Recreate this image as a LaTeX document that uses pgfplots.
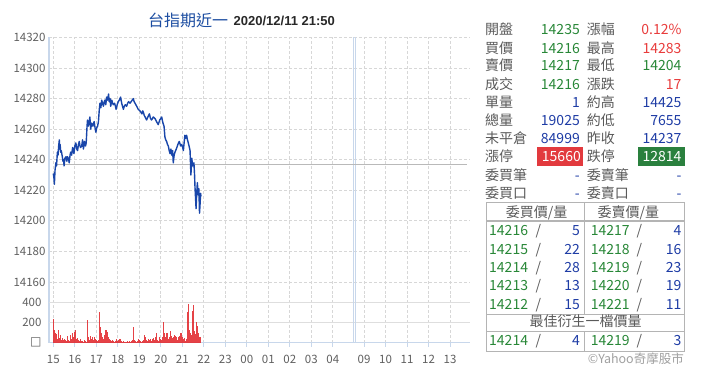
\documentclass[border=0pt]{standalone}
\usepackage{pgfplots}
\pgfplotsset{compat=1.18}
\usepackage{fontspec}
\setmainfont{Noto Sans CJK TC}
\newfontfamily\datefont{Liberation Sans}
\newfontfamily\symfont{DejaVu Sans}
\definecolor{labgray}{RGB}{90,90,90}
\definecolor{valgreen}{RGB}{40,135,55}
\definecolor{valblue}{RGB}{30,60,165}
\definecolor{valred}{RGB}{232,60,60}
\definecolor{linecol}{RGB}{25,70,170}
\definecolor{titleblue}{RGB}{28,77,161}
\definecolor{volred}{RGB}{226,45,50}
\definecolor{gridgray}{RGB}{215,215,215}
\definecolor{gridgray2}{RGB}{222,222,222}
\definecolor{axisblue}{RGB}{200,215,235}
\definecolor{prevgray}{RGB}{185,185,185}
\definecolor{tickgray}{RGB}{95,95,95}
\definecolor{tborder}{RGB}{180,180,180}
\definecolor{boxred}{RGB}{226,58,62}
\definecolor{boxgreen}{RGB}{42,128,62}
\definecolor{copygray}{RGB}{160,160,160}
\newcommand\tickfont{\fontsize{11.5bp}{13bp}\selectfont}
\newcommand\rp{\fontsize{14bp}{16bp}\selectfont}
\newcommand\lab[3]{\node[anchor=base west,inner sep=0pt,text=labgray,font=\rp] at (#1,{386-(#2)-5}) {#3};}
\newcommand\val[4]{\node[anchor=base east,inner sep=0pt,text=#4,font=\rp] at (#1,{386-(#2)-5}) {#3};}
\newcommand\ctr[3]{\node[anchor=base,inner sep=0pt,text=labgray,font=\rp] at (#1,{386-(#2)-5}) {#3};}
\begin{document}
\begin{tikzpicture}[x=1bp,y=1bp]
% ---------- price axis ----------
\begin{axis}[
  at={(49bp,92bp)}, anchor=south west,
  scale only axis, width=421bp, height=256.5bp,
  xmin=-0.2, xmax=19.38, ymin=14152.15, ymax=14320,
  scaled x ticks=false, scaled y ticks=false,
  axis lines*=left,
  x axis line style={draw=none},
  y axis line style={draw=axisblue, line width=1.2bp},
  xtick={0,1,2,3,4,5,6,7,8,9,10,11,12,13,14.45,15.45,16.45,17.45,18.45},
  xticklabels={},
  xtick style={draw=none},
  ytick={14160,14180,14200,14220,14240,14260,14280,14300,14320},
  ytick style={draw=none},
  grid=major,
  major grid style={dash pattern=on 3bp off 2bp, draw=gridgray, line width=0.8bp},
  yticklabel style={anchor=east, inner sep=0pt, xshift=-3.3bp, font=\tickfont, text=tickgray},
  /pgf/number format/assume math mode=true,
  /pgf/number format/1000 sep={},
]
\draw[axisblue, line width=0.8bp] (axis cs:13.98,14152.15) -- (axis cs:13.98,14320);
\draw[axisblue, line width=0.8bp] (axis cs:14.06,14152.15) -- (axis cs:14.06,14320);
\addplot[prevgray, line width=1.6bp, no markers] coordinates {(0.08,14237) (19.24,14237)};
\addplot[linecol, line width=1.4bp, no markers, line join=round] coordinates {
(0.00,14231) (0.03,14228) (0.05,14224) (0.08,14233) (0.12,14238) (0.15,14236) (0.19,14245) (0.22,14243) (0.25,14249) (0.28,14253) (0.30,14247) (0.32,14250) (0.34,14245) (0.37,14246) (0.42,14242) (0.45,14239) (0.48,14240) (0.50,14236)
(0.54,14241) (0.59,14242) (0.63,14239) (0.66,14242) (0.70,14241) (0.74,14238) (0.78,14243) (0.81,14245) (0.85,14243) (0.90,14248) (0.93,14246) (0.96,14244) (1.00,14249) (1.05,14251) (1.09,14247) (1.13,14246) (1.17,14250) (1.21,14252) (1.24,14249) (1.27,14248) (1.32,14249) (1.36,14253) (1.40,14247) (1.45,14252) (1.50,14249) (1.53,14251)
(1.57,14262) (1.59,14266) (1.63,14262) (1.67,14265) (1.70,14268) (1.74,14260) (1.78,14264) (1.84,14262) (1.90,14265) (1.94,14261) (1.98,14258) (2.02,14261) (2.06,14262) (2.10,14265) (2.14,14273) (2.17,14277) (2.21,14274) (2.25,14279) (2.29,14277) (2.33,14275) (2.37,14278) (2.40,14279) (2.44,14276) (2.48,14281) (2.52,14279) (2.57,14283) (2.60,14278) (2.64,14280) (2.67,14275) (2.72,14279) (2.76,14277) (2.79,14276) (2.85,14277) (2.89,14275) (2.92,14273) (2.97,14276) (3.02,14278) (3.07,14279) (3.13,14281) (3.18,14277) (3.22,14275) (3.26,14273) (3.30,14275) (3.35,14276) (3.41,14275) (3.46,14277) (3.50,14278) (3.57,14277) (3.62,14278) (3.67,14279) (3.72,14280) (3.76,14278) (3.80,14277) (3.88,14275)
(3.95,14273) (4.03,14272) (4.08,14271) (4.12,14270) (4.16,14272) (4.19,14271) (4.23,14269) (4.27,14268) (4.34,14266) (4.40,14268) (4.47,14270) (4.52,14267) (4.57,14266) (4.61,14267) (4.65,14268) (4.73,14267) (4.80,14265) (4.84,14264) (4.88,14263) (4.95,14266) (5.00,14267) (5.04,14268) (5.07,14266) (5.10,14264) (5.15,14262)
(5.19,14255) (5.23,14253) (5.27,14252) (5.31,14250) (5.35,14249) (5.39,14246) (5.43,14244) (5.47,14247) (5.51,14243) (5.55,14246) (5.58,14238) (5.62,14243) (5.66,14245) (5.72,14247) (5.77,14249) (5.82,14251) (5.86,14252) (5.92,14249) (5.97,14250) (6.02,14248) (6.05,14246) (6.09,14252) (6.12,14256) (6.16,14254) (6.20,14256) (6.24,14253) (6.28,14251) (6.33,14248) (6.36,14246)
(6.40,14230) (6.44,14241) (6.48,14236) (6.54,14238) (6.57,14230) (6.59,14222) (6.64,14208) (6.67,14218) (6.70,14225) (6.74,14217) (6.77,14221) (6.80,14205) (6.83,14212) (6.85,14218) (6.87,14216)
};
\end{axis}
% ---------- volume axis ----------
\begin{axis}[
  at={(49bp,43.3bp)}, anchor=south west,
  scale only axis, width=421bp, height=48.7bp,
  xmin=-0.2, xmax=19.38, ymin=0, ymax=482,
  scaled x ticks=false, scaled y ticks=false,
  axis lines*=left,
  axis line style={draw=axisblue, line width=1.2bp},
  xtick={0,1,2,3,4,5,6,7,8,9,10,11,12,13,14.45,15.45,16.45,17.45,18.45},
  xticklabels={15,16,17,18,19,20,21,22,23,00,01,02,03,04,09,10,11,12,13},
  tick align=outside, major tick length=4bp,
  xtick style={draw=axisblue, line width=1bp},
  xmajorgrids,
  major grid style={dash pattern=on 3bp off 2bp, draw=gridgray, line width=0.8bp},
  ytick={0}, yticklabels={{\symfont\fontsize{12bp}{13bp}\selectfont □}},
  ytick style={draw=none},
  extra y ticks={200,400},
  extra y tick style={grid=major, major grid style={solid, draw=gridgray2, line width=1bp}, tick style={draw=none}},
  yticklabel style={anchor=east, inner sep=0pt, xshift=-3.3bp, font=\tickfont, text=tickgray},
  xticklabel style={anchor=base, inner sep=0pt, yshift=-16.5bp, font=\tickfont, text=tickgray},
  /pgf/number format/assume math mode=true,
  /pgf/number format/1000 sep={},
]
\draw[axisblue, line width=0.8bp] (axis cs:13.98,0) -- (axis cs:13.98,482);
\draw[axisblue, line width=0.8bp] (axis cs:14.06,0) -- (axis cs:14.06,482);
\addplot[ycomb, draw=volred, draw opacity=0.9, line width=1.1bp, no markers] coordinates {
(0.00,230) (0.03,150) (0.06,130) (0.09,100) (0.12,60) (0.16,90) (0.19,40) (0.23,130) (0.26,90) (0.30,50) (0.34,80) (0.37,30) (0.41,50) (0.45,30) (0.48,20) (0.52,40) (0.56,30) (0.60,20) (0.64,20) (0.68,70) (0.72,30) (0.76,20) (0.80,80) (0.84,40) (0.88,100) (0.92,60) (0.96,30) (1.01,110) (1.05,130) (1.09,40) (1.13,50) (1.17,30) (1.21,20) (1.25,40) (1.29,20) (1.33,10) (1.37,20) (1.41,10) (1.45,30) (1.49,20) (1.53,10)
(1.58,220) (1.62,60) (1.66,30) (1.70,20) (1.74,70) (1.78,40) (1.82,60) (1.86,30) (1.90,60) (1.94,40) (1.98,20) (2.02,30) (2.06,20) (2.10,30) (2.14,300) (2.17,160) (2.21,80) (2.25,100) (2.29,60) (2.33,40) (2.37,80) (2.41,60) (2.45,130) (2.49,90) (2.53,110) (2.57,60) (2.61,40) (2.65,30) (2.70,20) (2.75,30) (2.80,20) (2.85,10) (2.90,20) (2.95,40) (3.00,20) (3.05,30) (3.10,40) (3.15,20) (3.20,10) (3.25,20) (3.30,10) (3.35,10) (3.40,10) (3.45,20) (3.50,10) (3.55,20) (3.60,10) (3.65,20) (3.70,30)
(3.74,160) (3.78,30) (3.82,20) (3.86,10) (3.90,20) (3.95,40) (4.00,30) (4.05,20) (4.10,10) (4.15,20) (4.20,30) (4.25,80) (4.29,60) (4.33,30) (4.37,20) (4.41,40) (4.45,30) (4.50,40) (4.55,20) (4.60,40) (4.65,50) (4.70,30) (4.75,60) (4.80,100) (4.85,30) (4.90,20) (4.95,60) (5.00,40) (5.05,30) (5.09,60)
(5.13,200) (5.17,100) (5.21,60) (5.25,80) (5.29,100) (5.33,60) (5.37,40) (5.41,60) (5.45,120) (5.49,70) (5.53,50) (5.58,60) (5.62,80) (5.66,40) (5.70,70) (5.74,60) (5.78,30) (5.82,60) (5.86,70) (5.90,50) (5.94,100) (5.98,80) (6.02,60) (6.06,40) (6.10,50) (6.15,20) (6.19,40)
(6.24,300) (6.27,380) (6.30,240) (6.34,130) (6.37,100) (6.41,80) (6.44,60) (6.48,310) (6.51,370) (6.54,200) (6.57,120) (6.61,90) (6.64,80) (6.68,200) (6.71,170) (6.74,100) (6.77,80) (6.80,60) (6.84,60)
};
\end{axis}
% ---------- title ----------
\node[anchor=base west, inner sep=0pt, text=titleblue, font=\fontsize{16bp}{18bp}\selectfont] at (148,{386-26}) {台指期近一};
\node[anchor=base west, inner sep=0pt, text={rgb,255:red,40;green,40;blue,40}, font=\datefont\bfseries\fontsize{13bp}{15bp}\selectfont] at (233.5,{386-25}) {2020/12/11 21:50};
% ---------- right info block ----------
\fill[boxred] (536.7,{386-146.7}) rectangle (583.3,{386-165.7});
\fill[boxgreen] (638.3,{386-146.7}) rectangle (685,{386-165.7});
\lab{485}{29.3}{開盤}   \val{580}{29.3}{14235}{valgreen}   \lab{586.7}{29.3}{漲幅}  \val{681.7}{29.3}{0.12\%}{valred}
\lab{485}{48.3}{買價}   \val{580}{48.3}{14216}{valgreen}   \lab{586.7}{48.3}{最高}  \val{681.7}{48.3}{14283}{valred}
\lab{485}{65.7}{賣價}   \val{580}{65.7}{14217}{valgreen}   \lab{586.7}{65.7}{最低}  \val{681.7}{65.7}{14204}{valgreen}
\lab{485}{84}{成交}     \val{580}{84}{14216}{valgreen}     \lab{586.7}{84}{漲跌}    \val{681.7}{84}{17}{valred}
\lab{485}{102.3}{單量}  \val{580}{102.3}{1}{valblue}       \lab{586.7}{102.3}{約高} \val{681.7}{102.3}{14425}{valblue}
\lab{485}{120.7}{總量}  \val{580}{120.7}{19025}{valblue}   \lab{586.7}{120.7}{約低} \val{681.7}{120.7}{7655}{valblue}
\lab{485}{138.7}{未平倉} \val{580}{138.7}{84999}{valblue}  \lab{586.7}{138.7}{昨收} \val{681.7}{138.7}{14237}{valblue}
\lab{485}{156.7}{漲停}  \val{581}{156.7}{15660}{white}     \lab{586.7}{156.7}{跌停} \val{681.7}{156.7}{12814}{white}
\lab{485}{175}{委買筆}  \val{580}{175}{-}{valblue}         \lab{586.7}{175}{委賣筆} \val{681.7}{175}{-}{valblue}
\lab{485}{193.3}{委買口} \val{580}{193.3}{-}{valblue}      \lab{586.7}{193.3}{委賣口} \val{681.7}{193.3}{-}{valblue}
% ---------- order book table ----------
\draw[tborder, line width=0.9bp] (486.7,{386-202.7}) rectangle (684,{386-351});
\draw[tborder, line width=1.3bp] (486.7,{386-221}) -- (684,{386-221});
\draw[tborder, line width=1.1bp] (486.7,{386-314.3}) -- (684,{386-314.3});
\draw[tborder, line width=1.3bp] (486.7,{386-331.5}) -- (684,{386-331.5});
\draw[tborder, line width=0.9bp] (584,{386-202.7}) -- (584,{386-314.3});
\draw[tborder, line width=0.9bp] (584,{386-331.5}) -- (584,{386-351});
\ctr{536.7}{212.3}{委買價/量}
\ctr{628.3}{212.3}{委賣價/量}
\ctr{585.5}{321.7}{最佳衍生一檔價量}
\newcommand\bookrow[5]{%
  \node[anchor=base west,inner sep=0pt,text=valgreen,font=\rp] at (489,{386-(#1)-5}) {#2};
  \ctr{538.3}{#1}{/}
  \val{580}{#1}{#3}{valblue}
  \node[anchor=base west,inner sep=0pt,text=valgreen,font=\rp] at (590.7,{386-(#1)-5}) {#4};
  \ctr{639.3}{#1}{/}
  \val{681.7}{#1}{#5}{valblue}}
\bookrow{230.7}{14216}{5}{14217}{4}
\bookrow{249}{14215}{22}{14218}{16}
\bookrow{267.3}{14214}{28}{14219}{23}
\bookrow{285.7}{14213}{13}{14220}{19}
\bookrow{304}{14212}{15}{14221}{11}
\bookrow{340.7}{14214}{4}{14219}{3}
\node[anchor=base east, inner sep=0pt, text=copygray, font=\fontsize{12.5bp}{14bp}\selectfont] at (684,{386-359-4.5}) {©Yahoo奇摩股市};
\pgfresetboundingbox
\useasboundingbox (0,0) rectangle (720,386);
\end{tikzpicture}
\end{document}
